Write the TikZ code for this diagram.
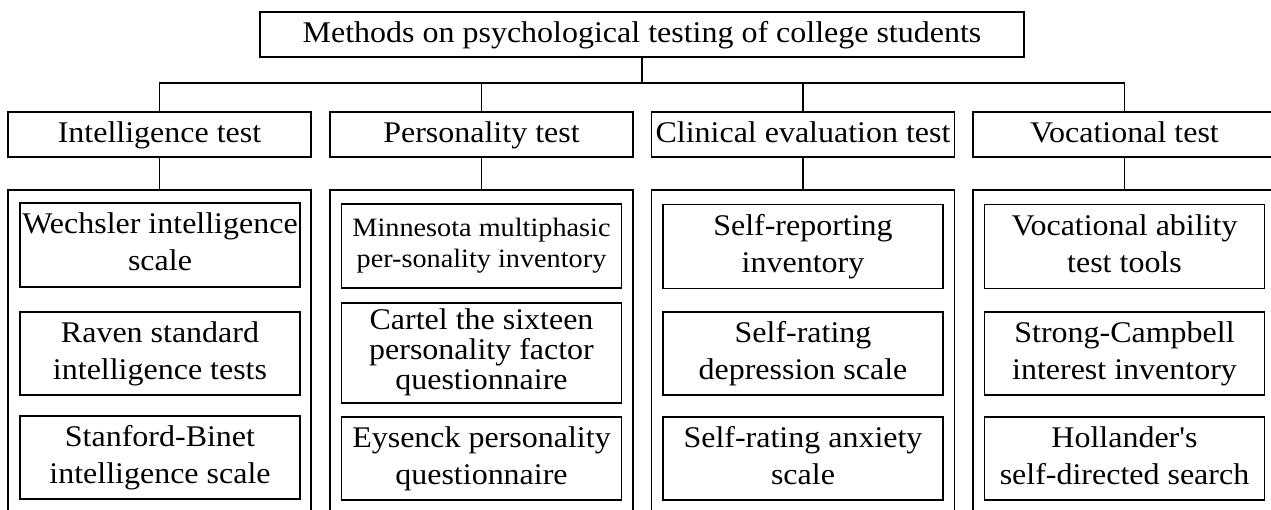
\documentclass[tikz,border=0pt]{standalone}
\usepackage{fontspec}
\setmainfont{Liberation Serif}[Ligatures=TeXOff,FakeStretch=1.066]
\newcommand\tline[1]{\strut#1}
\begin{document}
\begin{tikzpicture}[x=1pt,y=-1pt,
  box/.style={draw=black,line width=1.8pt,inner sep=0pt,align=center,
    font=\fontsize{30}{37}\selectfont},
  titlebox/.style={box,line width=2pt,minimum width=764pt,minimum height=45pt,font=\fontsize{30}{42}\selectfont},
  catbox/.style={box,minimum width=303pt,minimum height=45pt,font=\fontsize{30}{42}\selectfont},
  outerbox/.style={draw=black,line width=1.8pt,inner sep=0pt,minimum width=303pt,minimum height=340pt},
  itembox/.style={box,minimum width=280pt,minimum height=83pt},
  link/.style={draw=black,line width=1.5pt}]
\useasboundingbox (0,0) rectangle (1271,509);
\clip (0,0) rectangle (1271,509);
\fill[white] (0,0) rectangle (1271,509);

\node[titlebox] (title) at (642,34.5) {\tline{Methods on psychological testing of college students}};

\node[catbox] (c1) at (159.5,134.5) {\tline{Intelligence test}};
\node[catbox] (c2) at (481.5,134.5) {\tline{Personality test}};
\node[catbox] (c3) at (803,134.5) {\tline{Clinical evaluation test}};
\node[catbox] (c4) at (1124.5,134.5) {\tline{Vocational test}};

\node[outerbox] (o1) at (159.5,360) {};
\node[outerbox] (o2) at (481.5,360) {};
\node[outerbox] (o3) at (803,360) {};
\node[outerbox] (o4) at (1124.5,360) {};

\coordinate (j) at (642,83);
\draw[link] (title.south) -- (j);
\draw[link] (c1.north) -- (c1.north |- j) -- (c4.north |- j) -- (c4.north);
\draw[link] (c2.north) -- (c2.north |- j);
\draw[link] (c3.north) -- (c3.north |- j);
\draw[link] (c1.south) -- (o1.north);
\draw[link] (c2.south) -- (o2.north);
\draw[link] (c3.south) -- (o3.north);
\draw[link] (c4.south) -- (o4.north);

% Intelligence
\node[itembox,minimum height=84pt] (i1) at (160,245) {\tline{Wechsler intelligence}\\\tline{scale}};
\node[itembox] (i2) at (160,353.5) {\tline{Raven standard}\\\tline{intelligence tests}};
\node[itembox] (i3) at (160,457.5) {\tline{Stanford-Binet}\\\tline{intelligence scale}};

% Personality
\node[itembox,minimum height=84pt,font=\fontsize{26.5}{31}\selectfont] (p1) at (481.5,246) {\tline{Minnesota multiphasic}\\\tline{per-sonality inventory}};
\node[itembox,minimum height=100pt,font=\fontsize{30}{28}\selectfont] (p2) at (481.5,353) {\tline{Cartel the sixteen}\\\tline{personality factor}\\\tline{questionnaire}};
\node[itembox] (p3) at (481.5,458.5) {\tline{Eysenck personality}\\\tline{questionnaire}};

% Clinical
\node[itembox,minimum height=84pt] (k1) at (803,246.5) {\tline{Self-reporting}\\\tline{inventory}};
\node[itembox] (k2) at (803,353.5) {\tline{Self-rating}\\\tline{depression scale}};
\node[itembox] (k3) at (803,458.5) {\tline{Self-rating anxiety}\\\tline{scale}};

% Vocational
\node[itembox,minimum height=84pt] (v1) at (1124.5,246.5) {\tline{Vocational ability}\\\tline{test tools}};
\node[itembox] (v2) at (1124.5,353.5) {\tline{Strong-Campbell}\\\tline{interest inventory}};
\node[itembox] (v3) at (1124.5,458.5) {\tline{Hollander's}\\\tline{self-directed search}};
\end{tikzpicture}
\end{document}
